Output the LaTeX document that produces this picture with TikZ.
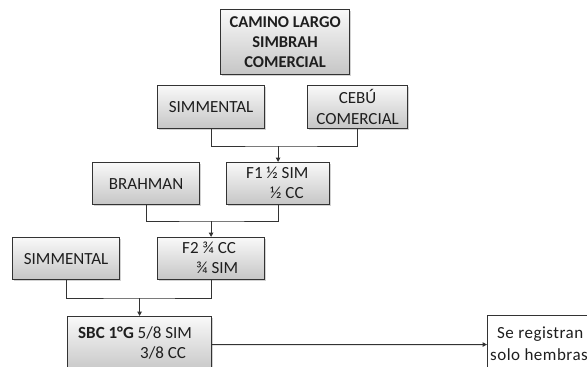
\documentclass[tikz,border=0pt]{standalone}
\usepackage{fontspec}
\setmainfont{Carlito}
\usetikzlibrary{arrows.meta,shadows,calc}
\definecolor{edge}{HTML}{333333}
\definecolor{ink}{HTML}{1E1E1E}
\tikzset{
  box/.style={draw=edge, line width=1.2pt, top color=gray!5, bottom color=gray!45,
    drop shadow={shadow xshift=1.5pt, shadow yshift=-1.5pt, opacity=0.35},
    anchor=north west, inner sep=0pt, align=center, text=ink,
    font=\fontsize{17}{20.5}\selectfont},
  plainbox/.style={draw=edge, line width=1.1pt, fill=white, anchor=north west, inner sep=0pt},
  txt/.style={anchor=west, inner sep=0pt, text=ink, font=\fontsize{17}{20}\selectfont},
  regtxt/.style={txt, font=\fontsize{17}{20}\selectfont\addfontfeatures{LetterSpace=3}},
  conn/.style={draw=edge, line width=1pt},
  arr/.style={conn, -{Triangle[length=4.5pt,width=4.5pt]}},
}
\begin{document}
\begin{tikzpicture}[x=1pt,y=-1pt]
\clip (0,0) rectangle (587,367);
\fill[white] (0,0) rectangle (587,367);
% boxes
\node[box, minimum width=129pt, minimum height=65pt, font=\bfseries\fontsize{16.5}{20}\selectfont] (top) at (220,9) {CAMINO LARGO\\SIMBRAH\\COMERCIAL};
\node[box, minimum width=107pt, minimum height=43pt] (simA) at (157,85) {SIMMENTAL};
\node[box, minimum width=100pt, minimum height=43pt] (cebu) at (307,85) {CEBÚ\\COMERCIAL};
\node[box, minimum width=107pt, minimum height=42pt] (brah) at (92,162) {BRAHMAN};
\node[box, minimum width=103pt, minimum height=42pt] (fone) at (226,162) {};
\node[box, minimum width=107pt, minimum height=42pt] (simB) at (12,237) {SIMMENTAL};
\node[box, minimum width=107pt, minimum height=42pt] (ftwo) at (157,237) {};
\node[box, minimum width=144pt, minimum height=56pt] (sbc) at (67,316) {};
\node[plainbox, minimum width=120pt, minimum height=58pt] (reg) at (487,315) {};
% texts inside boxes
\node[txt] (foneA) at (246,173) {F1 ½ SIM};
\node[txt] (foneB) at (270,193) {½ CC};
\node[txt] (ftwoA) at (182,248) {F2 ¾ CC};
\node[txt] (ftwoB) at (196,268) {¾ SIM};
\node[txt] (sbcA) at (78,333) {\textbf{SBC 1°G} 5/8 SIM};
\node[txt] (sbcB) at (140,353) {3/8 CC};
\node[regtxt] (regA) at (497,334) {Se registran};
\node[regtxt] (regB) at (490,355) {solo hembras};
% junctions
\coordinate (j1) at ($(fone.north)+(0,-16)$);
\coordinate (j2) at ($(ftwo.north)+(0,-16)$);
\coordinate (j3) at ($(sbc.north)+(0,-18)$);
% connectors
\draw[conn] (simA.south) |- (j1) -| (cebu.south);
\draw[arr] (j1) -- (fone.north);
\draw[conn] (brah.south) |- (j2) -| (fone.south);
\draw[arr] (j2) -- (ftwo.north);
\draw[conn] (simB.south) |- (j3) -| (ftwo.south);
\draw[arr] (j3) -- (sbc.north);
\draw[arr] (sbc.east) -- (reg.west);
\end{tikzpicture}
\end{document}
